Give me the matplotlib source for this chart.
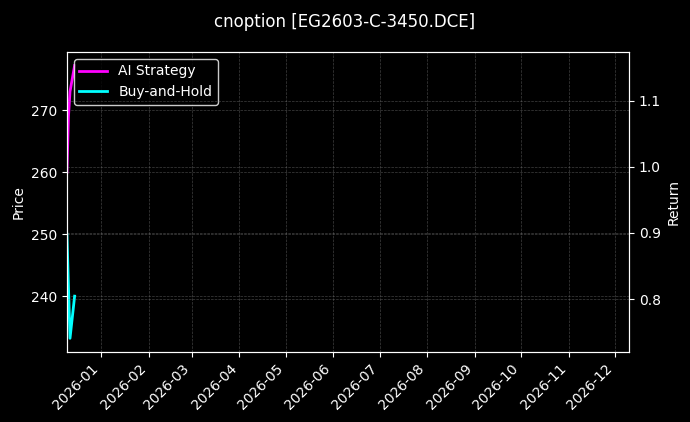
import pandas as pd
import matplotlib
matplotlib.use("Agg")
import matplotlib.pyplot as plt
import matplotlib.dates as mdates

# data
dates = pd.to_datetime(["2025-12-10", "2025-12-11", "2025-12-12", "2025-12-15"])
ai_strategy = [260.0, 269.0, 273.0, 277.2]
buy_and_hold = [250.0, 241.5, 233.2, 240.0]
x_range = pd.to_datetime(["2025-12-10", "2026-12-10"])
return_range = (0.72, 1.174)

plt.style.use("dark_background")
fig, ax1 = plt.subplots(figsize=(6.9, 4.22), dpi=100)
fig.subplots_adjust(left=0.097, right=0.9116, top=0.877, bottom=0.166)

ax1.plot(dates, ai_strategy, color="#ff00ff", lw=2, label="AI Strategy")
ax1.plot(dates, buy_and_hold, color="#00ffff", lw=2, label="Buy-and-Hold")
ax1.set_ylabel("Price")
ax1.set_xlim(x_range[0], x_range[1])
ax1.grid(True, linestyle="--", linewidth=0.5, color="grey", alpha=0.5)

ax2 = ax1.twinx()
ax2.set_ylim(*return_range)
ax2.set_ylabel("Return")
ax2.grid(True, linestyle="--", linewidth=0.5, color="grey", alpha=0.5)

ax1.xaxis.set_major_locator(mdates.MonthLocator())
ax1.xaxis.set_major_formatter(mdates.DateFormatter("%Y-%m"))
plt.setp(ax1.get_xticklabels(), rotation=45, ha="right")

leg = ax1.legend(loc="upper left", facecolor="black", edgecolor="white")
fig.suptitle("cnoption [EG2603-C-3450.DCE]", fontsize=12, y=0.97)

fig.savefig("out.png", dpi=100)
